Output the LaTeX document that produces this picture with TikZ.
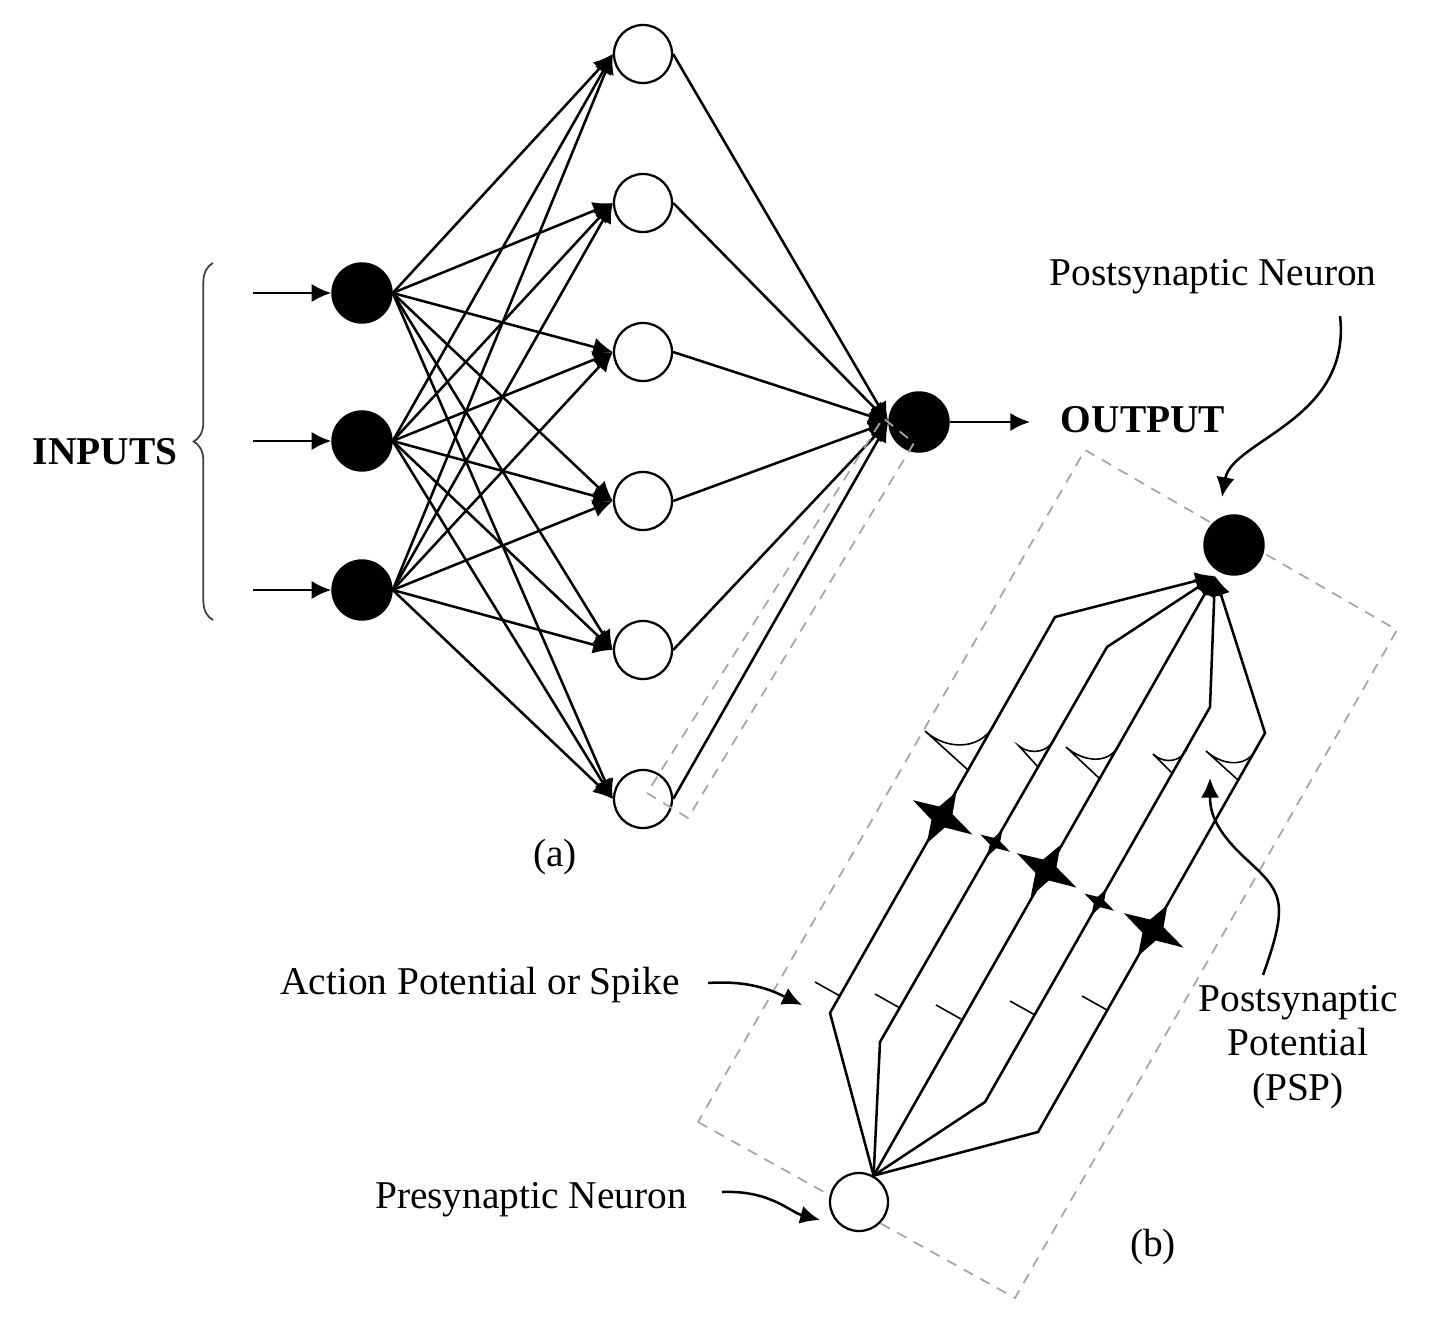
\documentclass[tikz,border=0pt]{standalone}
\usepackage{fontspec}
\setmainfont{Liberation Serif}
\usetikzlibrary{arrows.meta,decorations.pathreplacing,calc}
\begin{document}
\begin{tikzpicture}[x=0.01cm,y=-0.01cm,
  blk/.style={circle,fill=black,draw=black,minimum size=0.6cm,inner sep=0pt},
  wht/.style={circle,fill=white,draw=black,line width=0.65pt,minimum size=0.58cm,inner sep=0pt},
  con/.style={line width=0.72pt,-{Latex[length=5.6pt,width=5.2pt]}},
  psp/.style={line width=0.45pt},
  dsh/.style={draw=gray!70,line width=0.5pt,dash pattern=on 3pt off 2.4pt},
  lbl/.style={font=\fontsize{11.2}{12.6}\selectfont,inner sep=0pt},
  bld/.style={font=\fontsize{11.2}{12.6}\selectfont\bfseries,inner sep=0pt},
  star4/.pic={\fill (0,-0.9) -- (0.24,-0.24) -- (1.1,0) -- (0.24,0.24) -- (0,0.95) -- (-0.24,0.24) -- (-1.05,0) -- (-0.24,-0.24) -- cycle;}
]
\useasboundingbox (0,0) rectangle (1454,1330);

% big dashed frame (b)
\draw[dsh] (698,1122) -- (1015,1298) -- (1397,630) -- (1085,450) -- cycle;

% ---------- (a) ----------
\node[blk] (i1) at (362,293) {};
\node[blk] (i2) at (362,441) {};
\node[blk] (i3) at (362,590) {};
\foreach \k/\y in {1/54,2/203,3/352,4/501,5/650,6/799}
  \node[wht] (h\k) at (643,\y) {};
\node[blk] (o) at (919,422) {};

\coordinate (in1) at (253,293);
\coordinate (in2) at (253,441);
\coordinate (in3) at (253,590);
\foreach \i in {1,2,3} \draw[con] (in\i) -- (i\i);
\foreach \i in {1,2,3} \foreach \k in {1,...,6}
  \draw[con] (i\i.east) -- (h\k.west);
\foreach \k in {1,...,6} \draw[con] (h\k.east) -- (o.west);

\node[bld] (outlbl) at (1143,420) {OUTPUT};
\coordinate (outtip) at (1030,422);
\draw[con] (o.east) -- (outtip);

\draw[black!75,line width=0.5pt,decorate,decoration={brace,amplitude=5.5pt}] (213,620) -- (213,263);
\node[bld] (inlbl) at (105,452) {INPUTS};
\node[lbl] (alb) at (555,857) {(a)};

% small dashed frame (a)
\draw[dsh] (647,793) -- (688,818) -- (914,443) -- (883,418) -- cycle;

% ---------- (b) ----------
\node[blk] (post) at (1234,545) {};
\node[wht] (pre) at (859,1202) {};
\coordinate (pin) at (1215,576);

\coordinate (p1a) at (830,1013); \coordinate (p1b) at (1055,617);
\coordinate (p2a) at (880,1042); \coordinate (p2b) at (1107,647);
\coordinate (p4a) at (985,1102); \coordinate (p4b) at (1210,707);
\coordinate (p5a) at (1038,1132); \coordinate (p5b) at (1265,733);

\draw[con] (pre.61) -- (p1a) -- (p1b) -- (pin);
\draw[con] (pre.61) -- (p2a) -- (p2b) -- (pin);
\draw[con] (pre.61) -- (pin);
\draw[con] (pre.61) -- (p4a) -- (p4b) -- (pin);
\draw[con] (pre.61) -- (p5a) -- (p5b) -- (pin);

% action potentials (ticks)
\draw[psp] (815,982) -- (840,996);
\draw[psp] (875,994) -- (900,1008);
\draw[psp] (936,1005) -- (961,1019);
\draw[psp] (1010,1001) -- (1035,1015);
\draw[psp] (1082,996) -- (1107,1010);

% synaptic weights / delays (stars)
\pic[rotate=-30,scale=32] at (942,817) {star4};
\pic[rotate=-30,scale=16] at (995,843) {star4};
\pic[rotate=-30,scale=32] at (1046,870) {star4};
\pic[rotate=-30,scale=16] at (1099,902) {star4};
\pic[rotate=-30,scale=32] at (1153,930) {star4};

% postsynaptic potentials
\draw[psp] (968,770) -- (925,731) .. controls (948,752) and (985,750) .. (996,720);
\draw[psp] (1038,767) -- (1019,746) .. controls (1032,756) and (1050,752) .. (1056,736);
\draw[psp] (1099,778) -- (1066,747) .. controls (1084,763) and (1112,765) .. (1120,742);
\draw[psp] (1172,773) -- (1153,754) .. controls (1165,765) and (1183,762) .. (1188,746);
\draw[psp] (1238,780) -- (1206,751) .. controls (1224,767) and (1250,768) .. (1258,745);

% labels
\node[lbl] (postlbl) at (1213,277) {Postsynaptic Neuron};
\node[lbl] (aplbl) at (480,985) {Action Potential or Spike};
\node[lbl] (prelbl) at (531,1200) {Presynaptic Neuron};
\node[lbl,align=center] (psplbl) at (1298,1047) {Postsynaptic\\Potential\\(PSP)};
\node[lbl] (blb) at (1153,1247) {(b)};

\coordinate (s1) at (1340,316);
\coordinate (t1) at (1222,497);
\draw[con] (s1) .. controls (1352,420) and (1232,440) .. (t1);
\coordinate (s2) at (708,983);
\coordinate (t2) at (802,1005);
\draw[con] (s2) .. controls (752,980) and (775,992) .. (t2);
\coordinate (s3) at (722,1192);
\coordinate (t3) at (820,1220);
\draw[con] (s3) .. controls (770,1190) and (790,1212) .. (t3);
\coordinate (s4) at (1263,975);
\coordinate (t4) at (1210,778);
\draw[con] (s4) .. controls (1290,900) and (1282,892) .. (1245,858) .. controls (1215,830) and (1210,812) .. (t4);
\end{tikzpicture}
\end{document}
